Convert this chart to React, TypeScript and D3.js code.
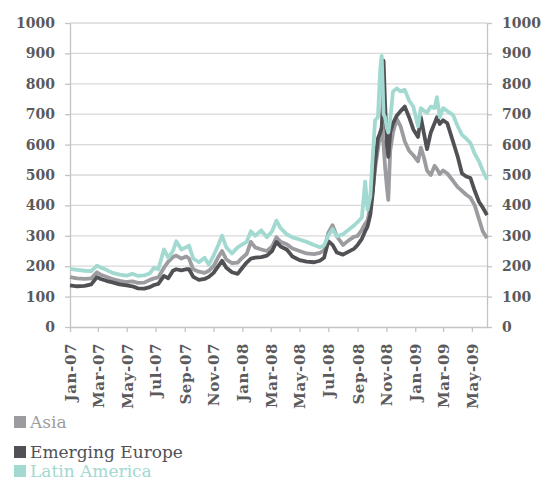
import React, { useEffect, useRef } from 'react';
import * as d3 from 'd3';

// sampled dates (roughly every 1-2 weeks, denser around the Oct-08 spike)
const dates = [
  '2007-01-01', '2007-01-16', '2007-02-01', '2007-02-15', '2007-02-27', '2007-03-07', '2007-03-19',
  '2007-04-01', '2007-04-16', '2007-05-01', '2007-05-13', '2007-05-25', '2007-06-07', '2007-06-19',
  '2007-06-28', '2007-07-07', '2007-07-19', '2007-07-28', '2007-08-07', '2007-08-14', '2007-08-25',
  '2007-09-04', '2007-09-10', '2007-09-19', '2007-10-01', '2007-10-13', '2007-10-22', '2007-11-01',
  '2007-11-11', '2007-11-19', '2007-11-28', '2007-12-10', '2007-12-22', '2008-01-01', '2008-01-10',
  '2008-01-19', '2008-01-28', '2008-02-10', '2008-02-22', '2008-03-04', '2008-03-13', '2008-03-22',
  '2008-04-04', '2008-04-16', '2008-05-01', '2008-05-16', '2008-06-01', '2008-06-13', '2008-06-22',
  '2008-07-01', '2008-07-10', '2008-07-19', '2008-08-01', '2008-08-13', '2008-08-25', '2008-09-01',
  '2008-09-10', '2008-09-17', '2008-09-22', '2008-09-28', '2008-10-03', '2008-10-08', '2008-10-14',
  '2008-10-19', '2008-10-22', '2008-10-24', '2008-10-26', '2008-10-29', '2008-11-02', '2008-11-05',
  '2008-11-09', '2008-11-15', '2008-11-23', '2008-12-01', '2008-12-10', '2008-12-19', '2008-12-28',
  '2009-01-07', '2009-01-13', '2009-01-19', '2009-01-26', '2009-02-03', '2009-02-11', '2009-02-16',
  '2009-02-22', '2009-03-01', '2009-03-10', '2009-03-22', '2009-04-01', '2009-04-10', '2009-04-19',
  '2009-04-28', '2009-05-07', '2009-05-16', '2009-05-24', '2009-06-02',
];

const asia = [
  164, 160, 158, 160, 180, 172, 165, 158, 152, 148, 150, 145, 146, 155, 160, 163, 195, 215, 230, 235, 225,
  232, 225, 190, 182, 178, 185, 200, 230, 250, 222, 210, 212, 228, 240, 280, 262, 255, 250, 265, 295, 280,
  272, 258, 250, 242, 240, 244, 252, 310, 335, 298, 270, 285, 297, 300, 320, 340, 350, 395, 450, 520, 585,
  640, 655, 620, 600, 530, 460, 418, 580, 640, 685, 660, 610, 580, 565, 545, 590, 560, 515, 500, 530, 520,
  503, 515, 505, 481, 460, 448, 435, 425, 400, 355, 315, 292,
];

const emergingEurope = [
  137, 134, 135, 140, 164, 158, 152, 147, 140, 137, 134, 127, 126, 131, 138, 142, 168, 160, 185, 190, 186,
  190, 190, 165, 155, 158, 165, 178, 200, 218, 195, 180, 175, 195, 212, 225, 228, 230, 235, 250, 280, 265,
  255, 232, 220, 215, 213, 218, 228, 282, 270, 245, 238, 248, 258, 270, 290, 315, 330, 370, 440, 540, 620,
  640, 655, 720, 876, 740, 600, 560, 640, 670, 695, 710, 725, 690, 650, 625, 690, 640, 585, 640, 670, 690,
  668, 680, 670, 610, 560, 505, 495, 490, 448, 412, 393, 368,
];

const latinAmerica = [
  191, 188, 185, 184, 202, 196, 188, 178, 172, 169, 175, 168, 170, 176, 195, 190, 255, 228, 250, 282, 255,
  262, 268, 225, 213, 228, 205, 235, 270, 300, 262, 242, 262, 272, 280, 315, 300, 318, 295, 315, 350, 325,
  305, 295, 288, 280, 270, 262, 268, 300, 322, 298, 305, 320, 335, 345, 360, 478, 385, 430, 560, 680, 690,
  850, 892, 800, 700, 690, 655, 640, 680, 775, 785, 775, 780, 745, 725, 660, 720, 712, 705, 725, 720, 756,
  690, 720, 710, 698, 660, 632, 620, 605, 570, 545, 515, 485,
];

const yTicks = [0, 100, 200, 300, 400, 500, 600, 700, 800, 900, 1000];
const seriesNames = ['Asia', 'Emerging Europe', 'Latin America'];
const seriesColors = ['#9c9ca0', '#505055', '#a2d9d1'];

const App: React.FC = () => {
  const svgRef = useRef<SVGSVGElement>(null);

  useEffect(() => {
    if (!svgRef.current) {return;}
    const svg = d3.select(svgRef.current);
    svg.selectAll('*').remove();

    const left = 70;
    const right = 487;
    const top = 23;
    const bottom = 327;
    const font = '"DejaVu Serif", serif';
    const textColor = '#5a5a5c';

    const parse = d3.timeParse('%Y-%m-%d');
    const x = d3.scaleTime()
      .domain([parse('2007-01-01') as Date, parse('2009-06-02') as Date])
      .range([left, right]);
    const y = d3.scaleLinear().domain([0, 1000]).range([bottom, top]);

    // gridlines
    svg.append('g')
      .selectAll('line')
      .data(yTicks.filter(d => d > 0))
      .enter()
      .append('line')
      .attr('x1', left)
      .attr('x2', right)
      .attr('y1', d => y(d))
      .attr('y2', d => y(d))
      .attr('stroke', '#d9d9d9')
      .attr('stroke-width', 1.3);

    const styleAxis = (g: any) => {
      g.selectAll('path').attr('stroke', '#c4c4c4').attr('stroke-width', 1.3);
      g.selectAll('line').attr('stroke', '#c4c4c4').attr('stroke-width', 1.3);
      g.selectAll('text')
        .attr('fill', textColor)
        .style('font-family', font)
        .style('font-weight', 'bold')
        .style('font-size', '14px');
    };

    // left axis
    svg.append('g')
      .attr('transform', `translate(${left},0)`)
      .call(d3.axisLeft(y).tickValues(yTicks).tickSize(5).tickSizeOuter(0).tickPadding(10).tickFormat(d3.format('d')) as any)
      .call(styleAxis);

    // right axis
    svg.append('g')
      .attr('transform', `translate(${right},0)`)
      .call(d3.axisRight(y).tickValues(yTicks).tickSize(5).tickSizeOuter(0).tickPadding(10).tickFormat(d3.format('d')) as any)
      .call(styleAxis);

    // bottom axis, rotated month labels
    const xTicks = d3.timeMonth.every(2)!.range(parse('2007-01-01') as Date, parse('2009-06-01') as Date);
    const xAxis = svg.append('g')
      .attr('transform', `translate(0,${bottom})`)
      .call(d3.axisBottom(x).tickValues(xTicks).tickSize(5).tickSizeOuter(0).tickFormat(d3.timeFormat('%b-%y') as any) as any)
      .call(styleAxis);
    xAxis.selectAll('text')
      .attr('transform', 'rotate(-90)')
      .attr('x', -16)
      .attr('y', 0)
      .attr('dy', '0.36em')
      .style('text-anchor', 'end')
      .style('font-size', '15px')
      .style('letter-spacing', '0.6px');

    // lines
    const allSeries = [asia, emergingEurope, latinAmerica];
    const line = d3.line<number>()
      .x((d, i) => x(parse(dates[i]) as Date))
      .y(d => y(d));

    allSeries.forEach((values, i) => {
      svg.append('path')
        .datum(values)
        .attr('fill', 'none')
        .attr('stroke', seriesColors[i])
        .attr('stroke-width', 3.8)
        .attr('stroke-linejoin', 'round')
        .attr('d', line);
    });

    // legend
    const legendY = [416, 446, 465];
    const legend = svg.append('g');
    seriesNames.forEach((name, i) => {
      legend.append('rect')
        .attr('x', 14)
        .attr('y', legendY[i])
        .attr('width', 12)
        .attr('height', 12)
        .attr('fill', seriesColors[i]);
      legend.append('text')
        .attr('x', 30)
        .attr('y', legendY[i] + 12)
        .attr('fill', seriesColors[i])
        .style('font-family', font)
        .style('font-size', '17px')
        .text(name);
    });
  }, []);

  return (
    <svg
      ref={svgRef}
      width={543}
      height={481}
      style={{ position: 'absolute', left: 0, top: 0, background: '#fff' }}
    />
  );
};

export default App;
